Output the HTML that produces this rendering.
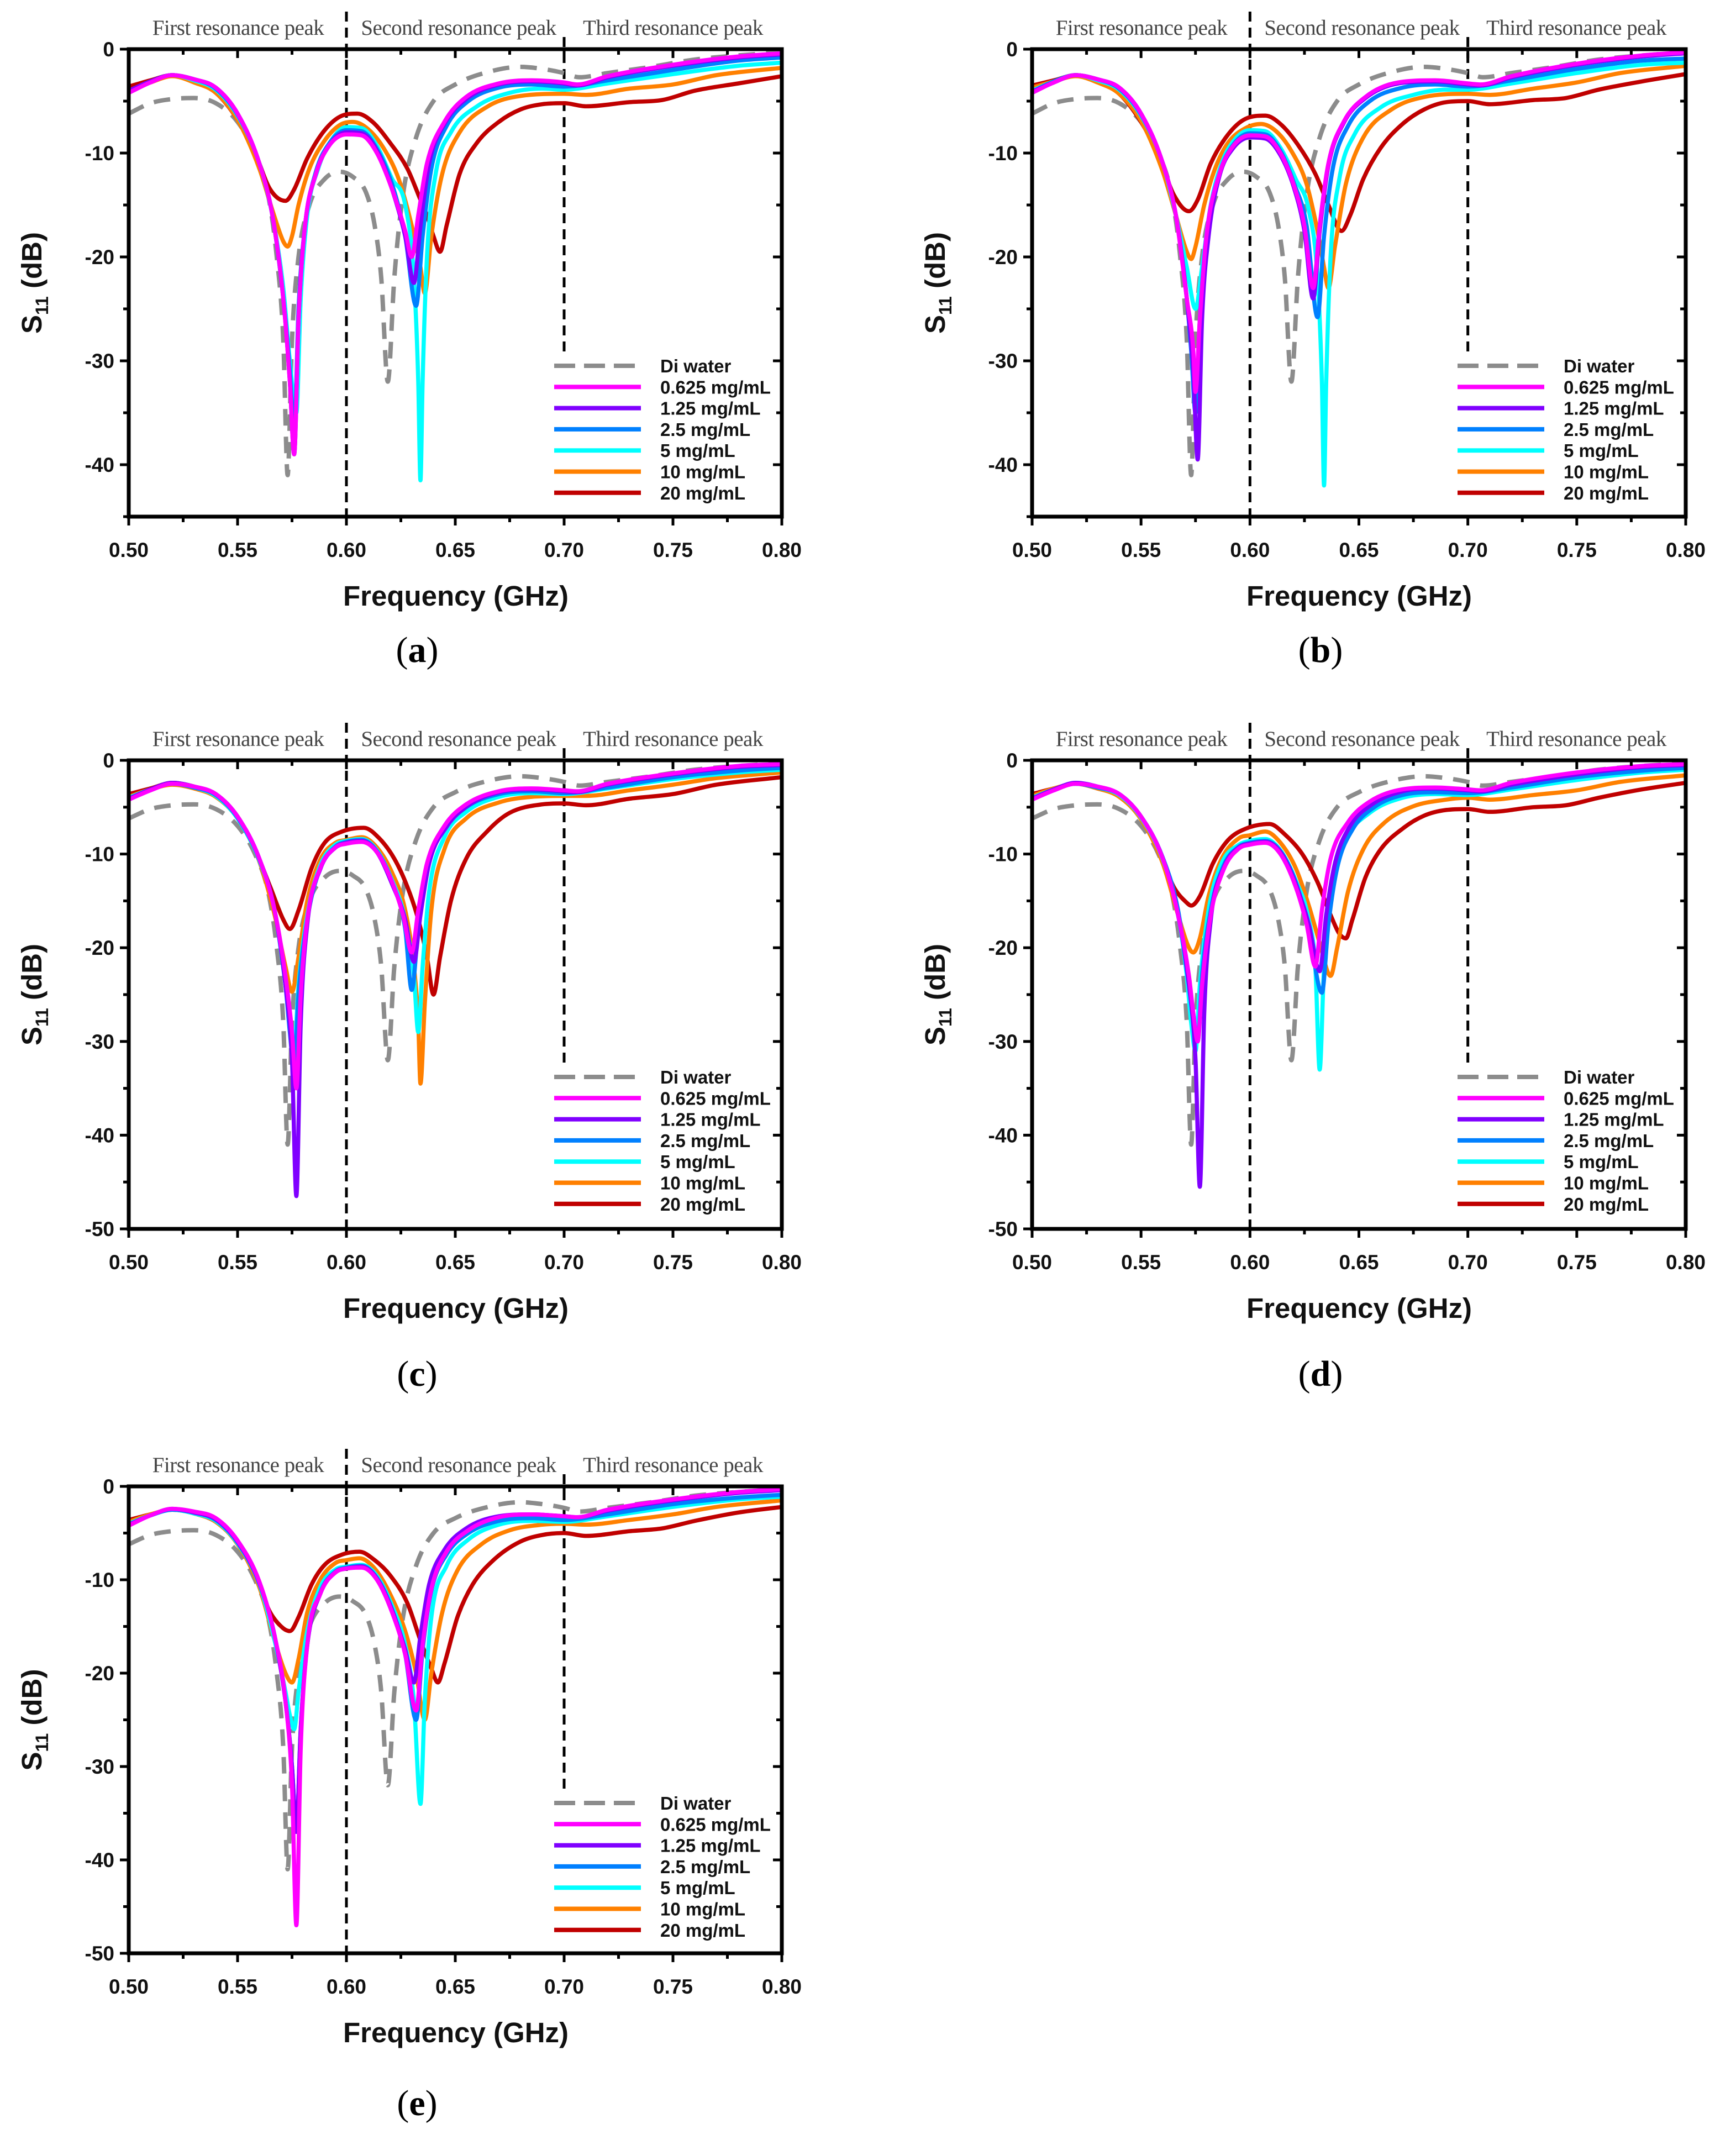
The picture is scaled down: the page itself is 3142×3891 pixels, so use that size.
<!DOCTYPE html>
<html><head><meta charset="utf-8">
<style>
html,body{margin:0;padding:0;background:#fff;}
svg{display:block;}
</style></head>
<body>
<svg id="fig" xmlns="http://www.w3.org/2000/svg" width="3142" height="3891" viewBox="0 0 3142 3891">
<rect x="0" y="0" width="3142" height="3891" fill="#fff"/>
</svg>
<script>
// ---------- data (frequency GHz, S11 dB) ----------
const DI = [[.50,-6.2],[.51,-5.2],[.52,-4.8],[.53,-4.7],[.54,-5.2],[.55,-7],[.558,-10],[.564,-14],[.568,-20],[.571,-28],[.573,-41],[.575,-28],[.578,-20],[.583,-15],[.59,-12.5],[.597,-11.8],[.603,-12.3],[.609,-13.8],[.613,-17],[.616,-22],[.619,-32],[.622,-22],[.626,-14],[.632,-8.5],[.64,-5],[.65,-3.4],[.665,-2.2],[.68,-1.7],[.69,-1.9],[.70,-2.3],[.707,-2.7],[.72,-2.3],[.74,-1.7],[.76,-1],[.78,-0.6],[.80,-0.3]];

const A_MAG = [[.50,-4.2],[.51,-3.2],[.52,-2.5],[.53,-2.9],[.54,-3.7],[.55,-6.2],[.56,-11],[.566,-16],[.571,-24],[.574,-32],[.576,-39],[.578,-26],[.581,-17],[.586,-12],[.592,-9.3],[.60,-8.2],[.607,-8.3],[.614,-10],[.621,-13.5],[.627,-17.5],[.630,-20],[.633,-16],[.637,-11],[.645,-7],[.655,-4.6],[.67,-3.3],[.685,-3],[.70,-3.2],[.706,-3.4],[.72,-2.6],[.75,-1.5],[.78,-0.7],[.80,-0.4]];
const A_PUR = [[.50,-4],[.51,-3.1],[.52,-2.5],[.53,-2.9],[.54,-3.7],[.55,-6.2],[.56,-11],[.566,-16],[.571,-24],[.574,-32],[.576,-39],[.578,-26],[.581,-17],[.586,-12],[.592,-9.3],[.60,-8],[.607,-8.1],[.614,-9.8],[.621,-13.5],[.627,-18],[.631,-22.5],[.634,-17],[.638,-11],[.645,-7.2],[.655,-4.8],[.67,-3.4],[.685,-3.1],[.70,-3.3],[.706,-3.5],[.72,-2.7],[.75,-1.6],[.78,-0.8],[.80,-0.5]];
const A_BLU = [[.50,-4],[.51,-3.1],[.52,-2.5],[.53,-2.9],[.54,-3.8],[.55,-6.3],[.56,-11],[.566,-16],[.571,-24],[.574,-31],[.576,-37],[.578,-25],[.581,-17],[.586,-11.8],[.592,-9.1],[.60,-7.8],[.607,-7.9],[.614,-9.6],[.621,-13],[.627,-18],[.632,-24.7],[.635,-18],[.639,-11.5],[.646,-7.4],[.656,-5],[.67,-3.7],[.685,-3.4],[.70,-3.6],[.72,-3],[.75,-2],[.78,-1.1],[.80,-0.8]];
const A_CYA = [[.50,-4.1],[.51,-3.1],[.52,-2.5],[.53,-3],[.54,-3.9],[.55,-6.4],[.56,-11],[.566,-16],[.571,-23],[.574,-30],[.577,-35],[.579,-24],[.582,-16],[.587,-11.5],[.593,-8.8],[.60,-7.5],[.607,-7.6],[.614,-9.3],[.621,-12.5],[.627,-15],[.631,-22],[.633,-32],[.634,-41.5],[.635,-32],[.637,-20],[.641,-12],[.648,-8],[.66,-5.5],[.675,-4.2],[.69,-3.8],[.70,-3.9],[.72,-3.3],[.75,-2.4],[.78,-1.6],[.80,-1.3]];
const A_ORA = [[.50,-4],[.51,-3.2],[.52,-2.6],[.53,-3.2],[.54,-4.2],[.55,-6.8],[.56,-11.5],[.566,-15.5],[.571,-18.5],[.573,-19],[.575,-18],[.578,-15],[.583,-11.5],[.59,-8.8],[.597,-7.3],[.603,-7],[.61,-7.7],[.617,-9.5],[.624,-12.5],[.63,-17],[.634,-21],[.636,-23.5],[.639,-18],[.644,-12],[.652,-8],[.665,-5.5],[.68,-4.5],[.70,-4.3],[.71,-4.4],[.73,-3.8],[.75,-3.4],[.77,-2.5],[.80,-1.8]];
const A_RED = [[.50,-3.6],[.51,-3],[.52,-2.5],[.53,-3.1],[.54,-4.2],[.55,-6.8],[.558,-10],[.565,-13.5],[.572,-14.6],[.576,-13.5],[.582,-10.5],[.59,-7.8],[.598,-6.4],[.605,-6.2],[.612,-7],[.62,-9],[.628,-11.5],[.634,-14.5],[.637,-16],[.64,-18],[.643,-19.5],[.646,-17],[.652,-12],[.66,-9],[.67,-7],[.68,-5.8],[.69,-5.3],[.70,-5.2],[.71,-5.5],[.73,-5.1],[.745,-4.9],[.76,-4],[.78,-3.3],[.80,-2.6]];

const B_MAG = [[.50,-4.2],[.51,-3.2],[.52,-2.5],[.53,-2.9],[.54,-3.7],[.55,-6.2],[.56,-11],[.566,-16],[.571,-24],[.574,-29],[.575,-33],[.577,-26],[.58,-18],[.586,-12],[.592,-9.4],[.60,-8.3],[.607,-8.4],[.614,-10],[.62,-13],[.625,-17],[.629,-23],[.632,-17],[.636,-11],[.643,-7],[.653,-4.6],[.668,-3.2],[.685,-3],[.70,-3.3],[.706,-3.4],[.72,-2.6],[.75,-1.4],[.78,-0.6],[.80,-0.3]];
const B_PUR = [[.50,-4.1],[.51,-3.2],[.52,-2.5],[.53,-2.9],[.54,-3.7],[.55,-6.2],[.56,-11],[.566,-16],[.571,-24],[.574,-31],[.576,-39.5],[.578,-26],[.581,-18],[.586,-12.2],[.592,-9.6],[.60,-8.5],[.607,-8.6],[.614,-10.2],[.62,-13.2],[.625,-17.5],[.629,-24],[.632,-17.5],[.636,-11.2],[.643,-7.1],[.653,-4.7],[.668,-3.3],[.685,-3.1],[.70,-3.4],[.706,-3.5],[.72,-2.7],[.75,-1.5],[.78,-0.7],[.80,-0.4]];
const B_BLU = [[.50,-4.1],[.51,-3.1],[.52,-2.5],[.53,-2.9],[.54,-3.8],[.55,-6.3],[.56,-11],[.566,-16],[.571,-24],[.573,-29],[.575,-35],[.577,-26],[.58,-18],[.586,-12],[.592,-9.3],[.60,-8.1],[.607,-8.2],[.614,-9.8],[.62,-12.8],[.626,-17],[.631,-25.8],[.634,-18],[.638,-11.5],[.645,-7.4],[.655,-5],[.67,-3.7],[.685,-3.4],[.70,-3.6],[.72,-3],[.75,-1.9],[.78,-1.1],[.80,-0.9]];
const B_CYA = [[.50,-4],[.51,-3.1],[.52,-2.5],[.53,-3],[.54,-3.9],[.55,-6.4],[.56,-11],[.566,-16],[.571,-21],[.575,-25],[.578,-21],[.582,-15],[.587,-11],[.593,-8.7],[.60,-7.8],[.607,-7.9],[.614,-9.5],[.621,-12.5],[.627,-15.5],[.631,-22],[.633,-32],[.634,-42],[.635,-32],[.637,-20],[.641,-12.5],[.648,-8.2],[.66,-5.6],[.675,-4.4],[.69,-3.9],[.70,-3.9],[.72,-3.3],[.75,-2.3],[.78,-1.5],[.80,-1.3]];
const B_ORA = [[.50,-3.7],[.51,-3.1],[.52,-2.6],[.53,-3.2],[.54,-4.3],[.55,-6.9],[.56,-11.8],[.566,-16],[.571,-19.5],[.573,-20.2],[.575,-19],[.579,-15],[.584,-11.5],[.59,-9],[.598,-7.6],[.605,-7.2],[.612,-7.9],[.619,-9.8],[.626,-13],[.631,-17.5],[.634,-21],[.636,-23],[.639,-19],[.644,-13],[.652,-8.5],[.665,-5.8],[.68,-4.6],[.70,-4.3],[.71,-4.4],[.73,-3.8],[.75,-3.2],[.77,-2.3],[.80,-1.6]];
const B_RED = [[.50,-3.5],[.51,-3],[.52,-2.5],[.53,-3.1],[.54,-4.3],[.55,-7],[.558,-10.2],[.565,-14],[.572,-15.6],[.576,-14.5],[.582,-11],[.59,-8.2],[.598,-6.7],[.607,-6.4],[.614,-7.2],[.622,-9.2],[.63,-12],[.636,-15],[.642,-17.5],[.646,-16],[.652,-12.5],[.66,-9.5],[.67,-7.2],[.68,-5.8],[.69,-5.1],[.70,-5],[.71,-5.3],[.73,-4.9],[.745,-4.7],[.76,-3.9],[.78,-3.1],[.80,-2.4]];

const C_MAG = [[.50,-4.2],[.51,-3.2],[.52,-2.5],[.53,-2.8],[.54,-3.6],[.55,-6],[.56,-10.5],[.567,-16],[.572,-23],[.575,-29],[.577,-35],[.579,-25],[.582,-17],[.588,-11.5],[.595,-9.3],[.60,-8.9],[.607,-8.7],[.614,-9.8],[.621,-13],[.626,-16.5],[.630,-20.5],[.633,-16],[.637,-11],[.645,-7],[.655,-4.7],[.67,-3.3],[.685,-3],[.70,-3.2],[.706,-3.3],[.72,-2.5],[.75,-1.4],[.78,-0.6],[.80,-0.4]];
const C_PUR = [[.50,-4.1],[.51,-3.1],[.52,-2.4],[.53,-2.8],[.54,-3.6],[.55,-6],[.56,-10.5],[.567,-16],[.572,-24],[.575,-32],[.577,-46.5],[.579,-28],[.582,-17.5],[.588,-11.6],[.595,-9.3],[.60,-8.8],[.607,-8.6],[.614,-9.8],[.621,-13.2],[.627,-17],[.631,-21.5],[.634,-16.5],[.638,-11],[.646,-7.1],[.656,-4.8],[.67,-3.4],[.685,-3.1],[.70,-3.3],[.706,-3.4],[.72,-2.6],[.75,-1.5],[.78,-0.7],[.80,-0.5]];
const C_BLU = [[.50,-4.1],[.51,-3.1],[.52,-2.5],[.53,-2.9],[.54,-3.7],[.55,-6.1],[.56,-10.6],[.567,-16],[.572,-24],[.574,-29],[.576,-33],[.578,-25],[.582,-17],[.588,-11.5],[.595,-9.2],[.60,-8.7],[.607,-8.5],[.614,-9.7],[.621,-13],[.627,-18],[.630,-24.5],[.633,-18],[.637,-11.5],[.645,-7.4],[.655,-5],[.67,-3.6],[.685,-3.3],[.70,-3.5],[.72,-2.9],[.75,-1.8],[.78,-1.1],[.80,-0.8]];
const C_CYA = [[.50,-4],[.51,-3.1],[.52,-2.5],[.53,-2.9],[.54,-3.8],[.55,-6.2],[.56,-10.7],[.567,-16],[.572,-24],[.574,-28],[.576,-31],[.578,-24],[.582,-16.5],[.588,-11.2],[.595,-9],[.60,-8.6],[.607,-8.4],[.614,-9.6],[.621,-12.8],[.627,-17],[.631,-23],[.633,-29],[.635,-22],[.638,-14],[.645,-8.2],[.655,-5.5],[.67,-3.9],[.685,-3.5],[.70,-3.6],[.72,-3],[.75,-2],[.78,-1.3],[.80,-1]];
const C_ORA = [[.50,-3.9],[.51,-3.1],[.52,-2.6],[.53,-3],[.54,-3.9],[.55,-6.2],[.56,-10.8],[.567,-16.5],[.572,-22],[.575,-24.7],[.578,-21],[.582,-15],[.588,-10.6],[.595,-8.8],[.60,-8.5],[.607,-8.2],[.614,-9.3],[.621,-12],[.627,-16],[.631,-22],[.633,-28],[.634,-34.5],[.636,-26],[.639,-16],[.645,-9.5],[.655,-6.2],[.67,-4.5],[.685,-3.9],[.70,-3.8],[.71,-3.8],[.73,-3.2],[.75,-2.6],[.77,-1.9],[.80,-1.3]];
const C_RED = [[.50,-3.6],[.51,-3],[.52,-2.4],[.53,-2.8],[.54,-3.7],[.55,-6],[.558,-9.5],[.565,-13.5],[.571,-17],[.574,-18],[.578,-16],[.584,-11.5],[.59,-8.8],[.598,-7.6],[.608,-7.2],[.615,-8.3],[.622,-10.5],[.628,-13.5],[.633,-17],[.637,-21],[.640,-25],[.643,-21],[.648,-15],[.655,-10.5],[.665,-7.5],[.675,-5.6],[.69,-4.7],[.70,-4.6],[.71,-4.8],[.73,-4.1],[.75,-3.6],[.77,-2.6],[.80,-1.8]];

const D_MAG = [[.50,-4.2],[.51,-3.2],[.52,-2.5],[.53,-2.8],[.54,-3.6],[.55,-6],[.56,-10.5],[.567,-16.5],[.572,-23],[.574,-27],[.576,-30],[.578,-24],[.582,-16.5],[.588,-11.6],[.595,-9.4],[.60,-9],[.607,-8.8],[.614,-10],[.621,-13.5],[.626,-17.5],[.630,-22],[.633,-16],[.637,-10.5],[.645,-6.6],[.655,-4.4],[.67,-3.1],[.685,-2.9],[.70,-3.1],[.706,-3.2],[.72,-2.4],[.75,-1.3],[.78,-0.6],[.80,-0.4]];
const D_PUR = [[.50,-4.1],[.51,-3.1],[.52,-2.4],[.53,-2.8],[.54,-3.6],[.55,-6],[.56,-10.5],[.567,-16.5],[.572,-24],[.575,-32],[.577,-45.5],[.579,-27],[.582,-17],[.588,-11.5],[.595,-9.3],[.60,-8.9],[.607,-8.7],[.614,-9.8],[.621,-13.2],[.627,-17.5],[.632,-22.5],[.635,-16.5],[.639,-11],[.646,-7],[.656,-4.7],[.67,-3.3],[.685,-3],[.70,-3.2],[.706,-3.3],[.72,-2.6],[.75,-1.5],[.78,-0.7],[.80,-0.5]];
const D_BLU = [[.50,-4.1],[.51,-3.1],[.52,-2.5],[.53,-2.9],[.54,-3.6],[.55,-6],[.56,-10.4],[.567,-16],[.572,-24],[.574,-27],[.576,-30],[.578,-23],[.582,-16],[.588,-11.2],[.595,-9.2],[.60,-8.8],[.607,-8.6],[.614,-9.7],[.621,-13],[.627,-18],[.633,-24.8],[.636,-17.5],[.64,-11.5],[.647,-7.4],[.657,-5],[.67,-3.7],[.685,-3.4],[.70,-3.5],[.72,-2.9],[.75,-1.8],[.78,-1.1],[.80,-0.8]];
const D_CYA = [[.50,-4],[.51,-3.1],[.52,-2.5],[.53,-2.9],[.54,-3.7],[.55,-6.1],[.56,-10.6],[.567,-16.5],[.571,-23],[.573,-28],[.575,-31],[.577,-24],[.581,-16],[.587,-11],[.595,-9],[.60,-8.6],[.607,-8.4],[.614,-9.6],[.621,-12.8],[.627,-17],[.630,-22],[.632,-33],[.634,-22],[.637,-14],[.644,-8.5],[.655,-5.6],[.67,-4],[.685,-3.6],[.70,-3.7],[.72,-3.1],[.75,-2.1],[.78,-1.3],[.80,-1]];
const D_ORA = [[.50,-3.8],[.51,-3],[.52,-2.5],[.53,-3],[.54,-3.9],[.55,-6.3],[.56,-11],[.567,-16.5],[.572,-20],[.574,-20.5],[.577,-19],[.581,-14.5],[.587,-10.5],[.595,-8.3],[.60,-8],[.607,-7.6],[.614,-8.8],[.621,-11.5],[.627,-15.5],[.632,-19.5],[.637,-23],[.64,-20],[.645,-14],[.652,-9.5],[.662,-6.6],[.675,-4.9],[.69,-4.2],[.70,-4],[.71,-4.2],[.73,-3.7],[.75,-3.2],[.77,-2.3],[.80,-1.6]];
const D_RED = [[.50,-3.6],[.51,-3],[.52,-2.5],[.53,-3],[.54,-3.8],[.55,-6.2],[.558,-9.6],[.565,-13.5],[.571,-15.2],[.573,-15.5],[.577,-14.5],[.583,-11],[.59,-8.5],[.598,-7.3],[.609,-6.8],[.616,-7.9],[.624,-10],[.631,-13],[.637,-16.5],[.641,-18.5],[.644,-19],[.647,-17],[.653,-12.5],[.66,-9.5],[.67,-7.3],[.68,-5.9],[.69,-5.3],[.70,-5.2],[.71,-5.5],[.73,-5],[.745,-4.8],[.76,-4],[.78,-3.1],[.80,-2.4]];

const E_MAG = [[.50,-4.2],[.51,-3.1],[.52,-2.4],[.53,-2.7],[.54,-3.4],[.55,-5.8],[.56,-10.2],[.567,-16],[.572,-23],[.575,-32],[.577,-47],[.579,-28],[.582,-17],[.588,-11.5],[.595,-9.2],[.60,-8.8],[.607,-8.7],[.614,-10],[.621,-13.5],[.627,-18],[.632,-24],[.635,-17],[.639,-11],[.646,-7],[.656,-4.7],[.67,-3.3],[.685,-3],[.70,-3.2],[.706,-3.3],[.72,-2.5],[.75,-1.4],[.78,-0.6],[.80,-0.3]];
const E_PUR = [[.50,-4.1],[.51,-3.1],[.52,-2.4],[.53,-2.8],[.54,-3.5],[.55,-5.9],[.56,-10.3],[.567,-16],[.572,-23],[.575,-30],[.577,-37],[.579,-26],[.582,-17],[.588,-11.5],[.595,-9.2],[.60,-8.8],[.607,-8.6],[.614,-9.9],[.621,-13.3],[.627,-17.5],[.631,-21],[.634,-16],[.638,-10.5],[.645,-6.8],[.655,-4.5],[.67,-3.2],[.685,-3],[.70,-3.2],[.706,-3.3],[.72,-2.6],[.75,-1.5],[.78,-0.7],[.80,-0.4]];
const E_BLU = [[.50,-4.1],[.51,-3.1],[.52,-2.5],[.53,-2.8],[.54,-3.6],[.55,-6],[.56,-10.4],[.567,-16],[.572,-23],[.575,-30],[.577,-37],[.579,-26],[.582,-17],[.588,-11.4],[.595,-9.1],[.60,-8.7],[.607,-8.5],[.614,-9.8],[.621,-13.2],[.627,-18],[.632,-25],[.635,-17.5],[.639,-11.2],[.646,-7.3],[.656,-5],[.67,-3.7],[.685,-3.4],[.70,-3.6],[.72,-3],[.75,-1.9],[.78,-1.2],[.80,-0.9]];
const E_CYA = [[.50,-4],[.51,-3.1],[.52,-2.5],[.53,-2.9],[.54,-3.7],[.55,-6.1],[.56,-10.5],[.567,-16.5],[.572,-22],[.574,-24.5],[.576,-26],[.578,-22],[.582,-15.5],[.588,-10.8],[.595,-8.9],[.60,-8.6],[.607,-8.4],[.614,-9.6],[.621,-12.8],[.627,-17],[.631,-23],[.634,-34],[.636,-23],[.639,-14],[.646,-8.5],[.656,-5.7],[.67,-4.1],[.685,-3.7],[.70,-3.8],[.72,-3.2],[.75,-2.2],[.78,-1.4],[.80,-1.1]];
const E_ORA = [[.50,-3.8],[.51,-3],[.52,-2.5],[.53,-2.9],[.54,-3.8],[.55,-6.2],[.56,-10.8],[.567,-16.5],[.572,-20],[.575,-21],[.578,-18.5],[.582,-13.5],[.588,-10],[.595,-8.2],[.60,-7.9],[.606,-7.7],[.613,-8.8],[.62,-11.5],[.627,-15.5],[.632,-20],[.636,-25],[.639,-20],[.644,-13.5],[.651,-9],[.662,-6.2],[.675,-4.7],[.69,-4.1],[.70,-4],[.71,-4.1],[.73,-3.6],[.75,-3],[.77,-2.2],[.80,-1.5]];
const E_RED = [[.50,-3.6],[.51,-3],[.52,-2.5],[.53,-2.9],[.54,-3.8],[.55,-6.1],[.558,-9.6],[.565,-13.5],[.571,-15.2],[.574,-15.5],[.578,-14],[.584,-10.5],[.59,-8.4],[.598,-7.3],[.606,-7],[.613,-7.9],[.62,-9.5],[.628,-12.5],[.634,-16.5],[.639,-19.5],[.642,-21],[.645,-19],[.651,-14],[.658,-10.5],[.668,-7.8],[.68,-5.9],[.69,-5.2],[.70,-5],[.71,-5.3],[.73,-4.8],[.745,-4.5],[.76,-3.7],[.78,-2.8],[.80,-2.2]];

const SERIES_NAMES = ["Di water","0.625 mg/mL","1.25 mg/mL","2.5 mg/mL","5 mg/mL","10 mg/mL","20 mg/mL"];
const X_TICKS = [0.50,0.55,0.60,0.65,0.70,0.75,0.80];
const X_TICK_LABELS = ["0.50","0.55","0.60","0.65","0.70","0.75","0.80"];
const REGION_LABELS = ["First resonance peak","Second resonance peak","Third resonance peak"];

// ---------- layout ----------
const COLORS = ["#8c8c8c","#ff00ff","#8000ff","#0080ff","#00ffff","#ff8000","#c00000"];
const PANELS = [
  {id:'a',L:233,R:1415,T:89,B:935,ymin:-45,capDy:263,data:[DI,A_MAG,A_PUR,A_BLU,A_CYA,A_ORA,A_RED]},
  {id:'b',L:1868,R:3051,T:89,B:935,ymin:-45,capDy:263,data:[DI,B_MAG,B_PUR,B_BLU,B_CYA,B_ORA,B_RED]},
  {id:'c',L:233,R:1415,T:1376,B:2224,ymin:-50,capDy:284,data:[DI,C_MAG,C_PUR,C_BLU,C_CYA,C_ORA,C_RED]},
  {id:'d',L:1868,R:3051,T:1376,B:2224,ymin:-50,capDy:284,data:[DI,D_MAG,D_PUR,D_BLU,D_CYA,D_ORA,D_RED]},
  {id:'e',L:233,R:1415,T:2690,B:3535,ymin:-50,capDy:293,data:[DI,E_MAG,E_PUR,E_BLU,E_CYA,E_ORA,E_RED]}
];
const NS='http://www.w3.org/2000/svg';
const svg=document.getElementById('fig');
function el(tag,attrs,parent){const e=document.createElementNS(NS,tag);for(const k in attrs)e.setAttribute(k,attrs[k]);(parent||svg).appendChild(e);return e;}

function monoPath(px,py){
  const n=px.length; if(n<2) return '';
  const m=[],t=new Array(n);
  for(let i=0;i<n-1;i++){m.push((py[i+1]-py[i])/(px[i+1]-px[i]));}
  t[0]=m[0]; t[n-1]=m[n-2];
  for(let i=1;i<n-1;i++){t[i]=(m[i-1]*m[i]<=0)?0:(m[i-1]+m[i])/2;}
  for(let i=0;i<n-1;i++){
    if(m[i]===0){t[i]=0;t[i+1]=0;continue;}
    const a=t[i]/m[i],b=t[i+1]/m[i],s=a*a+b*b;
    if(s>9){const k=3/Math.sqrt(s);t[i]=k*a*m[i];t[i+1]=k*b*m[i];}
  }
  let d='M'+px[0].toFixed(1)+' '+py[0].toFixed(1);
  for(let i=0;i<n-1;i++){
    const h=px[i+1]-px[i];
    d+=' C'+(px[i]+h/3).toFixed(1)+' '+(py[i]+t[i]*h/3).toFixed(1)+' '+(px[i+1]-h/3).toFixed(1)+' '+(py[i+1]-t[i+1]*h/3).toFixed(1)+' '+px[i+1].toFixed(1)+' '+py[i+1].toFixed(1);
  }
  return d;
}

PANELS.forEach(P=>{
  const g=el('g',{});
  
  
  const X=f=>P.L+(f-0.5)/(0.3)*(P.R-P.L);
  const Y=v=>P.T+(0-v)/(0-P.ymin)*(P.B-P.T);
  const clip='clip-'+P.id;
  const cp=el('clipPath',{id:clip},g);
  el('rect',{x:P.L,y:P.T,width:P.R-P.L,height:P.B-P.T},cp);

  // region labels
  const rx=[P.L+198,P.L+597,P.L+985];
  REGION_LABELS.forEach((s,i)=>{
    const t=el('text',{x:rx[i],y:P.T-26,'text-anchor':'middle','font-family':'"Liberation Serif",serif','font-size':'39','fill':'#444','letter-spacing':'-0.5'},g);
    
    
    t.textContent=s;
  });
  // dashed separators
  const s1=el('line',{x1:X(0.60),y1:P.T-68,x2:X(0.60),y2:P.B,stroke:'#000','stroke-width':5,'stroke-dasharray':'18 11'},g);
  
  
  const s2=el('line',{x1:X(0.70),y1:P.T-22,x2:X(0.70),y2:P.T+548,stroke:'#000','stroke-width':5,'stroke-dasharray':'18 11'},g);
  
  

  // series
  const order=[0,6,5,4,3,2,1];
  order.forEach(si=>{
    const pts=P.data[si];
    const d=monoPath(pts.map(p=>X(p[0])),pts.map(p=>Y(p[1])));
    const attrs={d:d,fill:'none',stroke:COLORS[si],'stroke-width':si===0?8:7.5,'stroke-linejoin':'round','stroke-linecap':'round','clip-path':'url(#'+clip+')'};
    if(si===0){attrs['stroke-dasharray']='30 20';attrs['stroke-linecap']='butt';}
    const p=el('path',attrs,g);
    
    
  });

  // frame
  const fr=el('rect',{x:P.L,y:P.T,width:P.R-P.L,height:P.B-P.T,fill:'none',stroke:'#000','stroke-width':7},g);
  
  

  // x ticks
  for(let k=0;k<=12;k++){
    const f=0.5+k*0.025, x=X(f), major=k%2===0, len=major?16:10;
    el('line',{x1:x,y1:P.B,x2:x,y2:P.B+len,stroke:'#000','stroke-width':5},g);
    el('line',{x1:x,y1:P.T,x2:x,y2:P.T+len,stroke:'#000','stroke-width':5},g);
  }
  X_TICKS.forEach((f,i)=>{
    const t=el('text',{x:X(f),y:P.B+73,'text-anchor':'middle','font-family':'"Liberation Sans",sans-serif','font-weight':'bold','font-size':'37','fill':'#111'},g);
    
    
    t.textContent=X_TICK_LABELS[i];
  });
  // y ticks
  for(let v=0;v>=P.ymin;v-=5){
    const y=Y(v), major=(v%10===0), len=major?16:10;
    el('line',{x1:P.L-len,y1:y,x2:P.L,y2:y,stroke:'#000','stroke-width':5},g);
    el('line',{x1:P.R-len,y1:y,x2:P.R,y2:y,stroke:'#000','stroke-width':5},g);
    if(major){
      const t=el('text',{x:P.L-26,y:y+13,'text-anchor':'end','font-family':'"Liberation Sans",sans-serif','font-weight':'bold','font-size':'37','fill':'#111'},g);
      
      
      t.textContent=String(v);
    }
  }
  // axis titles
  const xt=el('text',{x:P.L+592,y:P.B+161,'text-anchor':'middle','font-family':'"Liberation Sans",sans-serif','font-weight':'bold','font-size':'51','fill':'#111'},g);
  
  
  xt.textContent='Frequency (GHz)';
  const cy=(P.T+P.B)/2, cxp=P.L-158;
  const yt=el('text',{x:cxp,y:cy,'text-anchor':'middle','font-family':'"Liberation Sans",sans-serif','font-weight':'bold','font-size':'51','fill':'#111',transform:'rotate(-90 '+cxp+' '+cy+')'},g);
  
  
  yt.innerHTML='S<tspan font-size="32" dy="12">11</tspan><tspan dy="-12"> (dB)</tspan>';
  // caption
  const cap=el('text',{x:P.L+522,y:P.B+P.capDy,'text-anchor':'middle','font-family':'"Liberation Serif",serif','font-size':'66','fill':'#000'},g);
  
  
  cap.innerHTML='(<tspan font-weight="bold">'+P.id+'</tspan>)';

  // legend
  const lg=el('g',{},g);
  
  
  SERIES_NAMES.forEach((nm,i)=>{
    const y=P.T+573+i*38.3;
    const la={x1:P.L+770,y1:y,x2:P.L+927,y2:y,stroke:COLORS[i],'stroke-width':8};
    if(i===0) la['stroke-dasharray']='38 16';
    const ln=el('line',la,lg);
    
    
    const t=el('text',{x:P.L+962,y:y+12,'font-family':'"Liberation Sans",sans-serif','font-weight':'bold','font-size':'33','fill':'#111'},lg);
    
    
    t.textContent=nm;
  });
});
</script>
</body></html>
